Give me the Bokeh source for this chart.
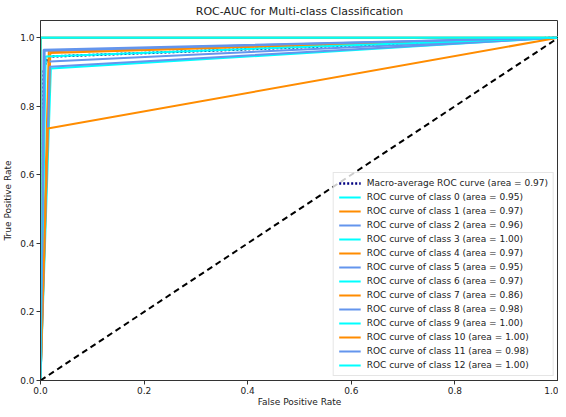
from bokeh.plotting import figure
from bokeh.models import Range1d, FixedTicker, PrintfTickFormatter, Legend, LegendItem
from bokeh.embed import file_html
from bokeh.resources import INLINE

# ROC data: each class is (0,0) -> (fpr, tpr) -> (1,1)
class_ids = list(range(13))
class_fpr = [0.020, 0.019, 0.008, 0.000, 0.016, 0.018, 0.010, 0.014, 0.006, 0.000, 0.000, 0.008, 0.000]
class_tpr = [0.910, 0.955, 0.930, 1.000, 0.960, 0.915, 0.945, 0.735, 0.965, 1.000, 1.000, 0.962, 1.000]
class_auc = [0.95, 0.97, 0.96, 1.00, 0.97, 0.95, 0.97, 0.86, 0.98, 1.00, 1.00, 0.98, 1.00]
class_colors = ["aqua", "darkorange", "cornflowerblue"]

macro_fpr = [0.0, 0.006, 0.010, 0.020, 1.0]
macro_tpr = [0.0, 0.900, 0.930, 0.945, 1.0]
macro_auc = 0.97

x_ticks = [0.0, 0.2, 0.4, 0.6, 0.8, 1.0]
y_ticks = [0.0, 0.2, 0.4, 0.6, 0.8, 1.0]
x_label = "False Positive Rate"
y_label = "True Positive Rate"

FONT = "DejaVu Sans"

p = figure(width=558, height=409, output_backend="svg", toolbar_location=None,
           x_range=Range1d(0, 1.0), y_range=Range1d(0, 1.05),
           title="ROC-AUC for Multi-class Classification",
           min_border_left=33, min_border_right=0, min_border_top=10, min_border_bottom=0)

p.title.text_font = FONT
p.title.text_font_size = "11px"
p.title.text_font_style = "normal"
p.title.align = "center"
p.title.text_color = "#222222"
p.title.standoff = 5

p.xgrid.visible = False
p.ygrid.visible = False
p.outline_line_color = "#333333"
p.outline_line_width = 1

for ax, ticks, lbl in ((p.xaxis[0], x_ticks, x_label), (p.yaxis[0], y_ticks, y_label)):
    ax.ticker = FixedTicker(ticks=ticks)
    ax.formatter = PrintfTickFormatter(format="%.1f")
    ax.axis_label = lbl
    ax.axis_label_text_font = FONT
    ax.axis_label_text_font_size = "9px"
    ax.axis_label_text_font_style = "normal"
    ax.axis_label_text_color = "#222222"
    ax.major_label_text_font = FONT
    ax.major_label_text_font_size = "9px"
    ax.major_label_text_color = "#222222"
    ax.minor_tick_line_color = None
    ax.major_tick_out = 4
    ax.major_tick_in = 0
    ax.axis_line_color = "#333333"
    ax.major_tick_line_color = "#333333"
    ax.major_label_standoff = 2
    ax.axis_label_standoff = 0

p.yaxis[0].axis_label_standoff = 4

items = []
r = p.line(macro_fpr, macro_tpr, line_color="navy", line_width=2.5, line_dash="2 2")
items.append(LegendItem(label="Macro-average ROC curve (area = %.2f)" % macro_auc, renderers=[r]))

for i in class_ids:
    r = p.line([0.0, class_fpr[i], 1.0], [0.0, class_tpr[i], 1.0],
               line_color=class_colors[i % 3], line_width=2)
    items.append(LegendItem(label="ROC curve of class %d (area = %.2f)" % (i, class_auc[i]), renderers=[r]))

p.line([0, 1], [0, 1], line_color="black", line_width=2, line_dash="6 4")

legend = Legend(items=items, location="bottom_right")
legend.label_text_font = FONT
legend.label_text_font_size = "9px"
legend.label_text_color = "#222222"
legend.label_height = 10
legend.glyph_height = 10
legend.glyph_width = 22
legend.spacing = 4
legend.padding = 5
legend.margin = 4
legend.label_standoff = 6
legend.border_line_color = "#cccccc"
legend.background_fill_alpha = 0.8
p.add_layout(legend)

open("out.html", "w").write(file_html(p, INLINE))
